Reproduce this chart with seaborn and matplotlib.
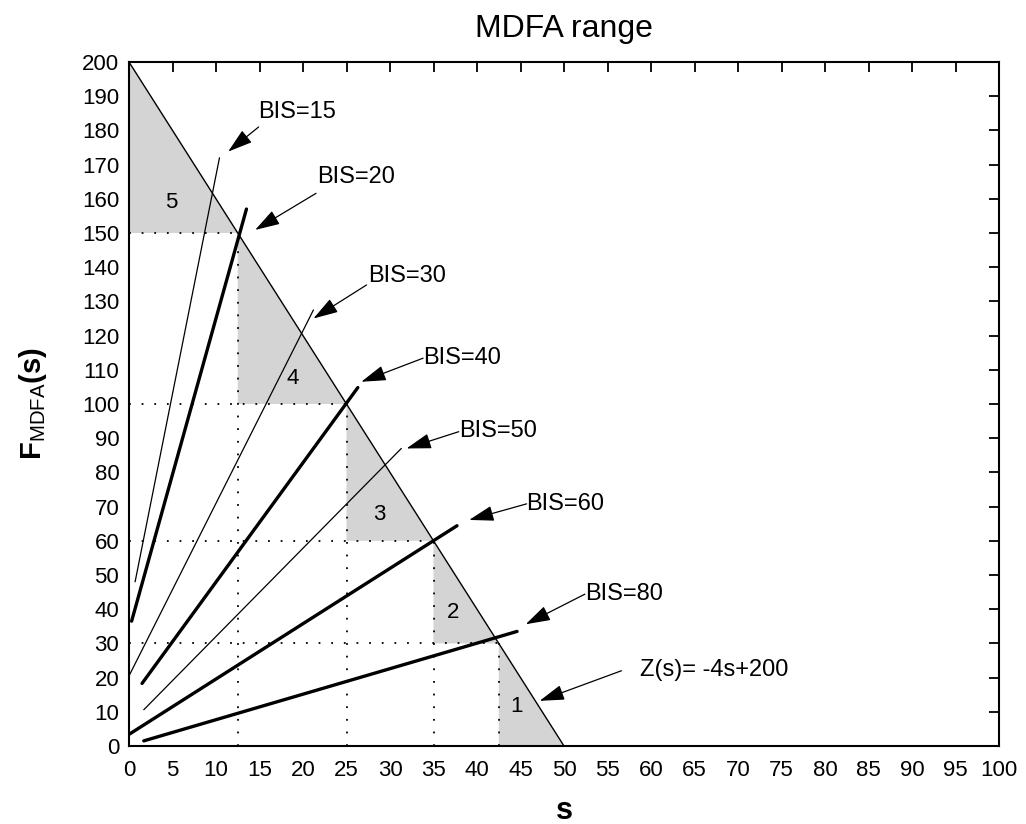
import matplotlib
matplotlib.use("Agg")
import matplotlib.pyplot as plt
import seaborn as sns
import pandas as pd

# Z(s) = -4s + 200 boundary line
z_s = [0.0, 50.0]
z_f = [200.0, 0.0]

# range edges along the boundary (s, F) and the region numbers they enclose
edge_s = [0.0, 12.5, 25.0, 35.0, 42.5, 50.0]
edge_f = [200.0, 150.0, 100.0, 60.0, 30.0, 0.0]
region_ids = ["5", "4", "3", "2", "1"]
region_label_s = [4.9, 18.8, 28.8, 37.3, 44.5]
region_label_f = [159.0, 107.5, 67.8, 39.0, 11.5]

# BIS lines: start / end points and weight
bis_names = ["BIS=15", "BIS=20", "BIS=30", "BIS=40", "BIS=50", "BIS=60", "BIS=80"]
bis_s0 = [0.7, 0.3, 0.0, 1.5, 1.7, 0.0, 1.7]
bis_f0 = [48.0, 36.5, 20.5, 18.3, 10.6, 3.4, 1.5]
bis_s1 = [10.4, 13.5, 21.2, 26.3, 31.3, 37.7, 44.6]
bis_f1 = [172.0, 157.0, 127.5, 104.8, 87.0, 64.4, 33.5]
bis_thick = [False, True, False, True, False, True, True]

# callout texts: text anchor, arrow tail and arrow tip
note_texts = bis_names + ["Z(s)= -4s+200"]
note_text_s = [14.8, 21.6, 27.5, 33.8, 37.9, 45.7, 52.4, 58.7]
note_text_f = [185.5, 166.5, 137.5, 113.5, 92.1, 70.8, 44.5, 22.2]
note_tail_s = [14.9, 21.5, 27.3, 33.8, 37.9, 45.7, 52.4, 56.6]
note_tail_f = [181.0, 161.6, 134.8, 113.4, 91.9, 70.8, 44.4, 22.0]
note_tip_s = [11.4, 14.5, 21.2, 26.7, 31.9, 39.1, 45.6, 47.2]
note_tip_f = [173.8, 150.9, 125.0, 106.5, 87.0, 66.1, 35.6, 13.2]

sns.set_theme(style="white")
plt.rcParams["font.family"] = ["Liberation Sans", "DejaVu Sans"]
plt.rcParams["mathtext.fontset"] = "custom"
plt.rcParams["mathtext.rm"] = "Liberation Sans"
plt.rcParams["mathtext.bf"] = "Liberation Sans:bold"
plt.rcParams["mathtext.it"] = "Liberation Sans:italic"

fig = plt.figure(figsize=(10.26, 8.24), dpi=100)
ax = fig.add_axes([129 / 1026, 1 - 746 / 824, 870 / 1026, 684 / 824])

gray = "#d4d4d4"
for i, rid in enumerate(region_ids):
    ax.fill([edge_s[i], edge_s[i], edge_s[i + 1]],
            [edge_f[i + 1], edge_f[i], edge_f[i + 1]],
            color=gray, lw=0, zorder=1)
    ax.text(region_label_s[i], region_label_f[i], rid, fontsize=16,
            ha="center", va="center", color="black", zorder=3)

# dotted guides from the axes to each range corner
for s, f in zip(edge_s[1:-1], edge_f[1:-1]):
    ax.plot([s, s], [0, f], color="black", lw=1.3, ls=(0, (1, 6)), zorder=2)
    ax.plot([0, s], [f, f], color="black", lw=1.3, ls=(0, (1, 6)), zorder=2)

zdf = pd.DataFrame({"s": z_s, "F": z_f})
sns.lineplot(data=zdf, x="s", y="F", color="black", lw=1.0, ax=ax, zorder=4)

for name, s0, f0, s1, f1, thick in zip(bis_names, bis_s0, bis_f0, bis_s1, bis_f1, bis_thick):
    df = pd.DataFrame({"s": [s0, s1], "F": [f0, f1]})
    sns.lineplot(data=df, x="s", y="F", color="black",
                 lw=2.4 if thick else 0.9, ax=ax, zorder=5)

for txt, ts, tf, as_, af, ps, pf in zip(note_texts, note_text_s, note_text_f,
                                        note_tail_s, note_tail_f, note_tip_s, note_tip_f):
    ax.annotate("", xy=(ps, pf), xytext=(as_, af),
                arrowprops=dict(arrowstyle="-|>,head_length=0.9,head_width=0.28",
                                color="black", lw=0.9, shrinkA=0, shrinkB=0,
                                mutation_scale=17),
                zorder=6)
    ax.text(ts, tf, txt, fontsize=17, ha="left", va="center", color="black", zorder=6)

ax.set_xlim(0, 100)
ax.set_ylim(0, 200)
ax.set_xticks(range(0, 101, 5))
ax.set_yticks(range(0, 201, 10))
ax.tick_params(direction="in", top=True, right=True, length=7, width=1.3,
               labelsize=16, colors="black")
ax.tick_params(axis="x", pad=10)
ax.tick_params(axis="y", pad=7)
for sp in ax.spines.values():
    sp.set_visible(True)
    sp.set_color("black")
    sp.set_linewidth(1.5)

ax.set_title("MDFA range", fontsize=23, pad=18, color="black")
ax.set_xlabel(r"$\mathbf{s}$", fontsize=22, color="black", va="baseline")
ax.set_ylabel(r"$\mathbf{F}_{\mathrm{MDFA}}\mathbf{(s)}$", fontsize=21, color="black")
ax.xaxis.set_label_coords(0.5, -0.106)
ax.yaxis.set_label_coords(-0.092, 0.5)

fig.savefig("out.png", dpi=100)
